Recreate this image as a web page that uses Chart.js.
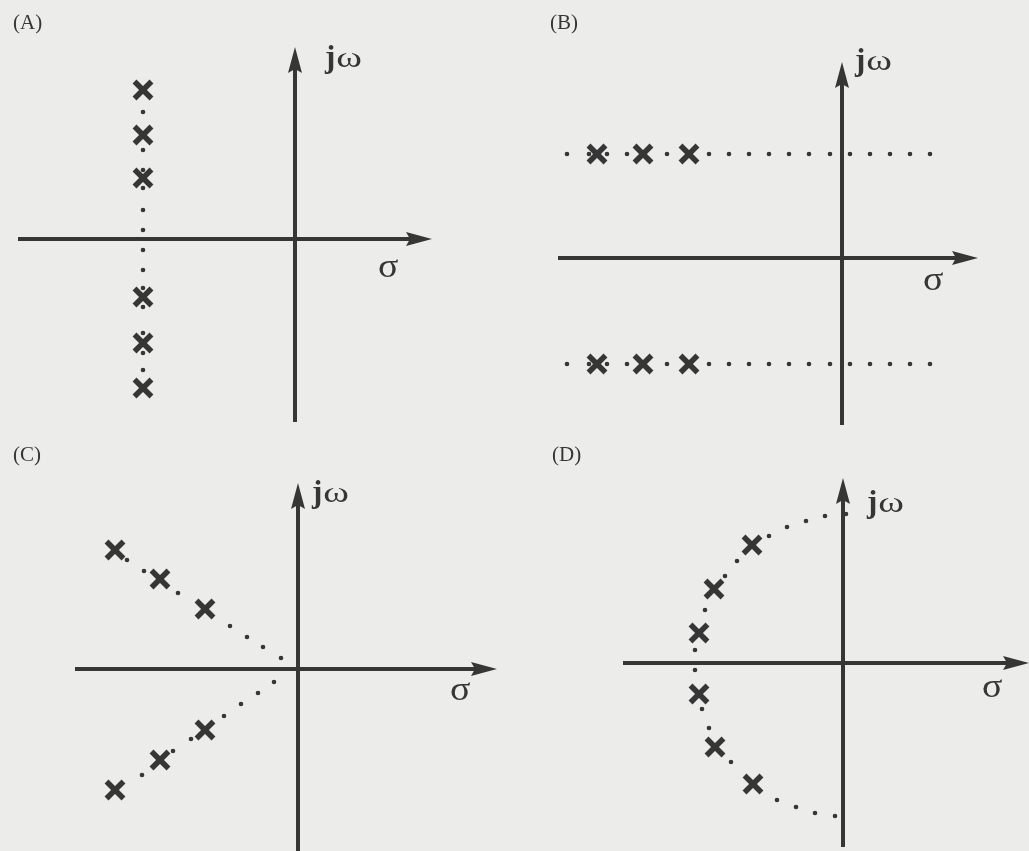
<!DOCTYPE html>
<html>
<head>
<meta charset="utf-8">
<script src="https://cdn.jsdelivr.net/npm/chart.js@4"></script>
<style>
  html, body { margin: 0; padding: 0; background: #ececeb; }
  #page { position: relative; width: 1029px; height: 851px; overflow: hidden; }
  canvas { position: absolute; }
</style>
</head>
<body>
<div id="page">
  <canvas id="chartA" width="515" height="430" style="left:0;top:0"></canvas>
  <canvas id="chartB" width="514" height="430" style="left:515px;top:0"></canvas>
  <canvas id="chartC" width="515" height="421" style="left:0;top:430px"></canvas>
  <canvas id="chartD" width="514" height="421" style="left:515px;top:430px"></canvas>
</div>
<script>
// s-plane units (sigma, jw); one unit ~ one tenth of a grid step
const polesA = [[-15.2, 14.9], [-15.2, 10.4], [-15.2, 6.1], [-15.2, -5.8], [-15.2, -10.4], [-15.2, -14.9]];
const dotsA = [[-15.2, 12.7], [-15.2, 8.9], [-15.2, 6.9], [-15.2, 5.1], [-15.2, 2.9], [-15.2, 0.9],
  [-15.2, -1.1], [-15.2, -3.1], [-15.2, -4.9], [-15.2, -6.8], [-15.2, -9.4], [-15.2, -11.4], [-15.2, -13.1]];

const polesB = [[-24.5, 10.4], [-19.9, 10.4], [-15.3, 10.4], [-24.5, -10.6], [-19.9, -10.6], [-15.3, -10.6]];
const dotsBx = [-27.5, -25.3, -23.5, -21.5, -17.5, -13.3, -11.3, -9.3, -7.3, -5.3, -3.3, -1.2, 0.8, 2.8, 4.8, 6.8, 8.8];
const rowsB = [10.4, -10.6];

const polesC = [[-18.3, 11.9], [-13.8, 9.0], [-9.3, 6.0], [-9.3, -6.1], [-13.8, -9.1], [-18.3, -12.1]];
const dotsC = [[-17.1, 10.9], [-15.4, 9.8], [-12.0, 7.6], [-6.8, 4.3], [-5.1, 3.2], [-3.5, 2.2], [-1.7, 1.1],
  [-2.4, -1.3], [-4.0, -2.4], [-5.7, -3.5], [-7.4, -4.7], [-10.7, -7.0], [-12.5, -8.2], [-15.6, -10.6]];

const polesD = [[-9.1, 11.8], [-12.9, 7.4], [-14.4, 3.0], [-14.4, -3.1], [-12.8, -8.4], [-9.0, -12.1]];
const dotsD = [[0.3, 14.9], [-1.8, 14.7], [-3.7, 14.2], [-5.6, 13.6], [-7.4, 12.7], [-10.6, 10.2], [-11.8, 8.7],
  [-13.8, 5.3], [-14.8, 1.3], [-14.8, -0.7], [-14.1, -4.6], [-13.4, -6.5], [-11.2, -9.9],
  [-6.6, -13.7], [-4.7, -14.4], [-2.8, -15.0], [-0.8, -15.3]];

const INK = '#363636';
const toPts = arr => arr.map(p => ({ x: p[0], y: p[1] }));

function arrowHead(ctx, tx, ty, dx, dy) {
  const L = 26, W = 7, N = 4;
  const nx = -dy, ny = dx;
  ctx.beginPath();
  ctx.moveTo(tx, ty);
  ctx.lineTo(tx - L * dx + W * nx, ty - L * dy + W * ny);
  ctx.lineTo(tx - (L - N) * dx, ty - (L - N) * dy);
  ctx.lineTo(tx - L * dx - W * nx, ty - L * dy - W * ny);
  ctx.closePath();
  ctx.fill();
}

const sPlanePlugin = {
  id: 'sPlane',
  beforeDatasetsDraw(chart, args, opts) {
    const { ctx, chartArea: a, scales } = chart;
    const x0 = scales.x.getPixelForValue(0);
    const y0 = scales.y.getPixelForValue(0);
    ctx.save();
    ctx.strokeStyle = INK;
    ctx.fillStyle = INK;
    ctx.lineWidth = 4;
    ctx.beginPath();
    ctx.moveTo(a.left, y0);
    ctx.lineTo(a.right - 20, y0);
    ctx.moveTo(x0, a.bottom);
    ctx.lineTo(x0, a.top + 20);
    ctx.stroke();
    arrowHead(ctx, a.right, y0, 1, 0);
    arrowHead(ctx, x0, a.top, 0, -1);
    ctx.restore();
  },
  afterDraw(chart, args, opts) {
    const { ctx, chartArea: a, scales } = chart;
    const x0 = scales.x.getPixelForValue(0);
    const y0 = scales.y.getPixelForValue(0);
    ctx.save();
    ctx.fillStyle = INK;
    ctx.textBaseline = 'alphabetic';
    ctx.textAlign = 'left';

    ctx.font = '21px "Liberation Serif"';
    ctx.fillText(opts.letter, opts.letterAt[0], opts.letterAt[1]);

    // j omega next to the vertical arrow (the scanned omega is wide)
    const jx = x0 + opts.jw[0], jy = a.top + opts.jw[1];
    ctx.font = 'bold 31px "Liberation Serif"';
    ctx.fillText('j', jx, jy);
    const w = ctx.measureText('j').width;
    ctx.save();
    ctx.translate(jx + w + 1, jy);
    ctx.scale(1.3, 1);
    ctx.font = '30px "Liberation Serif"';
    ctx.fillText('ω', 0, 0);
    ctx.restore();

    ctx.save();
    ctx.translate(a.right + opts.sigma[0], y0 + opts.sigma[1]);
    ctx.scale(1.15, 1);
    ctx.font = '33px "Liberation Serif"';
    ctx.fillText('σ', 0, 0);
    ctx.restore();
    ctx.restore();
  }
};

function criarPlano(canvasId, poles, dots, cfg) {
  const ctx = document.getElementById(canvasId).getContext('2d');
  return new Chart(ctx, {
    type: 'scatter',
    data: {
      datasets: [
        {
          label: 'poles',
          data: toPts(poles),
          pointStyle: 'crossRot',
          pointRadius: 12,
          borderWidth: 5.5,
          borderColor: INK,
          backgroundColor: INK,
          clip: false
        },
        {
          label: 'path',
          data: toPts(dots),
          pointStyle: 'circle',
          pointRadius: 2.3,
          borderWidth: 0,
          backgroundColor: INK,
          clip: false
        }
      ]
    },
    options: {
      responsive: false,
      animation: false,
      events: [],
      layout: { autoPadding: false, padding: cfg.padding },
      plugins: {
        legend: { display: false },
        tooltip: { enabled: false },
        sPlane: cfg.labels
      },
      scales: {
        x: { type: 'linear', display: false, min: cfg.x[0], max: cfg.x[1] },
        y: { type: 'linear', display: false, min: cfg.y[0], max: cfg.y[1] }
      }
    },
    plugins: [sPlanePlugin]
  });
}

const dotsB = [];
rowsB.forEach(r => dotsBx.forEach(x => dotsB.push([x, r])));

criarPlano('chartA', polesA, dotsA, {
  padding: { left: 18, right: 83, top: 47, bottom: 8 },
  x: [-27.7, 13.7], y: [-18.3, 19.2],
  labels: { letter: '(A)', letterAt: [13, 29], jw: [30, 20], sigma: [-54, 38] }
});
criarPlano('chartB', polesB, dotsB, {
  padding: { left: 43, right: 51, top: 62, bottom: 5 },
  x: [-28.4, 13.6], y: [-16.7, 19.6],
  labels: { letter: '(B)', letterAt: [35, 29], jw: [13, 8], sigma: [-55, 32] }
});
criarPlano('chartC', polesC, dotsC, {
  padding: { left: 75, right: 18, top: 53, bottom: 0 },
  x: [-22.3, 19.9], y: [-18.2, 18.6],
  labels: { letter: '(C)', letterAt: [13, 31], jw: [14, 19], sigma: [-47, 31] }
});
criarPlano('chartD', polesD, dotsD, {
  padding: { left: 108, right: 0, top: 48, bottom: 4 },
  x: [-22.0, 18.6], y: [-18.4, 18.5],
  labels: { letter: '(D)', letterAt: [37, 31], jw: [24, 34], sigma: [-47, 34] }
});
</script>
</body>
</html>
